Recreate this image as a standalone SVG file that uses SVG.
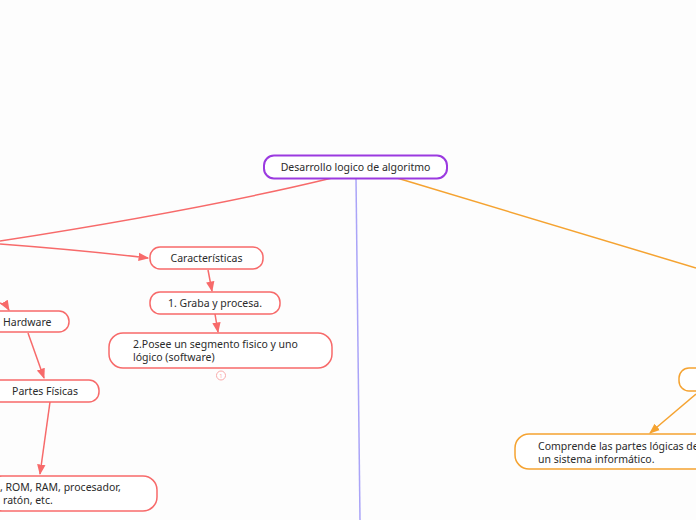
<svg xmlns="http://www.w3.org/2000/svg" width="696" height="520" viewBox="0 0 696 520">
<defs>
<style>
.t{font-family:"Noto Sans","Liberation Sans",sans-serif;font-size:10.5px;fill:#2b2b2b;}
.red{fill:#fff;stroke:#f76a6a;stroke-width:1.5;}
.ora{fill:#fff;stroke:#f5a331;stroke-width:1.5;}
.lr{fill:none;stroke:#f76a6a;stroke-width:1.5;}
.lo{fill:none;stroke:#f5a331;stroke-width:1.5;}
</style>
<marker id="ar" viewBox="0 0 10 10" refX="9" refY="5" markerWidth="7" markerHeight="7" orient="auto"><path d="M0,1 L10,5 L0,9 z" fill="#f76a6a"/></marker>
<marker id="ao" viewBox="0 0 10 10" refX="9" refY="5" markerWidth="7" markerHeight="7" orient="auto"><path d="M0,1 L10,5 L0,9 z" fill="#f5a331"/></marker>
</defs>
<rect width="696" height="520" fill="#fdfdfd"/>
<g id="connectors">
<path class="lr" d="M332,178 Q200,210 0,241"/>
<path class="lr" d="M0,244 Q80,250 148,258" marker-end="url(#ar)"/>
<path class="lr" d="M208,270 L212,291" marker-end="url(#ar)"/>
<path class="lr" d="M215,314 L218,332" marker-end="url(#ar)"/>
<path class="lr" d="M0,303 Q6,305 9,310" marker-end="url(#ar)"/>
<path class="lr" d="M28,333 L44,378" marker-end="url(#ar)"/>
<path class="lr" d="M50,402 L40,474" marker-end="url(#ar)"/>
<path d="M356,178 L360,520" fill="none" stroke="#aaa4f8" stroke-width="1.5"/>
<path class="lo" d="M397,178 L696,268"/>
<path class="lo" d="M696,394 L650,433" marker-end="url(#ao)"/>
</g>
<g id="root">
<rect x="264" y="155.5" width="183" height="23" rx="10" fill="#fff" stroke="#9b3ae0" stroke-width="2"/>
<text class="t" x="355.5" y="171" text-anchor="middle">Desarrollo logico de algoritmo</text>
</g>
<g id="caracteristicas">
<rect class="red" x="150" y="247" width="113" height="22" rx="10"/>
<text class="t" x="206.5" y="262" text-anchor="middle">Características</text>
</g>
<g id="graba">
<rect class="red" x="150" y="292" width="130" height="22" rx="10"/>
<text class="t" x="215" y="307" text-anchor="middle">1. Graba y procesa.</text>
</g>
<g id="posee">
<rect class="red" x="109" y="333" width="223" height="35" rx="14"/>
<text class="t" x="133" y="348">2.Posee un segmento fisico y uno</text>
<text class="t" x="133" y="361">lógico  (software)</text>
<circle cx="221" cy="375.5" r="4.5" fill="#fff" stroke="#f9aaaa" stroke-width="1"/>
<text x="221" y="378" text-anchor="middle" font-family="Noto Sans, sans-serif" font-size="6" fill="#f9aaaa">1</text>
</g>
<g id="hardware">
<rect class="red" x="-12" y="311" width="81" height="21" rx="10"/>
<text class="t" x="3" y="325.5">Hardware</text>
</g>
<g id="partes">
<rect class="red" x="-12" y="380" width="111" height="22" rx="10"/>
<text class="t" x="45" y="395" text-anchor="middle">Partes Físicas</text>
</g>
<g id="componentes">
<rect class="red" x="-12" y="476" width="169" height="35" rx="14"/>
<text class="t" x="0" y="491">, ROM, RAM, procesador,</text>
<text class="t" x="3" y="504">ratón, etc.</text>
</g>
<g id="software">
<rect class="ora" x="679" y="368" width="30" height="23" rx="10"/>
</g>
<g id="comprende">
<rect class="ora" x="515" y="434" width="195" height="35" rx="14"/>
<text class="t" x="538" y="450">Comprende las partes lógicas de</text>
<text class="t" x="538" y="463">un sistema informático.</text>
</g>
</svg>
